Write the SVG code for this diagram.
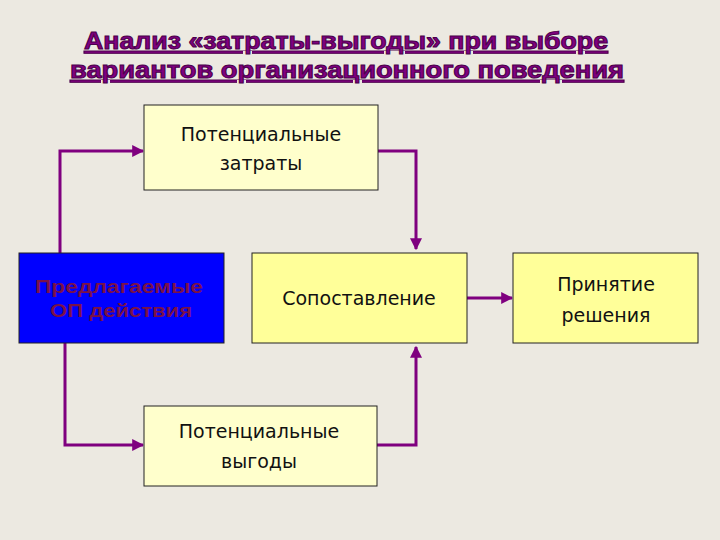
<svg xmlns="http://www.w3.org/2000/svg" width="720" height="540" viewBox="0 0 720 540">
<defs>
<style>
.title{font-family:"Liberation Sans",Arial,sans-serif;font-weight:bold;font-size:23px;fill:#800080;stroke:#4a004a;stroke-width:1;text-decoration:underline;text-anchor:middle}
.lbl{font-family:"DejaVu Sans","Noto Sans",sans-serif;font-size:19px;fill:#111;text-anchor:middle}
.blbl{font-family:"Liberation Sans",Arial,sans-serif;font-weight:bold;font-size:18px;fill:#7a1248;text-anchor:middle}
.pale{fill:#ffffcc;stroke:#222;stroke-width:1}
.yel{fill:#ffff99;stroke:#222;stroke-width:1}
.conn{fill:none;stroke:#7f007f;stroke-width:3;marker-end:url(#arr)}
</style>
<marker id="arr" viewBox="0 0 10 10" refX="9" refY="5" markerWidth="4" markerHeight="4" orient="auto" markerUnits="strokeWidth">
<path d="M0,0 L10,5 L0,10 z" fill="#7f007f"/>
</marker>
</defs>
<rect width="720" height="540" fill="#ece9e1"/>
<g id="title">
<text class="title" x="346" y="49" textLength="524" lengthAdjust="spacingAndGlyphs">Анализ «затраты-выгоды» при выборе</text>
<text class="title" x="347" y="78" textLength="554" lengthAdjust="spacingAndGlyphs">вариантов организационного поведения</text>
</g>
<g id="connectors">
<path class="conn" d="M60,253 V151 H143"/>
<path class="conn" d="M378,151 H416 V249"/>
<path class="conn" d="M65,343 V445 H143"/>
<path class="conn" d="M377,445 H416 V347"/>
<path class="conn" d="M467,298 H512"/>
</g>
<g id="costs">
<rect class="pale" x="144" y="105" width="234" height="85"/>
<text class="lbl" x="261" y="141">Потенциальные</text>
<text class="lbl" x="261" y="170">затраты</text>
</g>
<g id="actions">
<rect x="19" y="253" width="205" height="90" fill="#0000ff" stroke="#222" stroke-width="1"/>
<text class="blbl" x="119" y="293" textLength="168" lengthAdjust="spacingAndGlyphs">Предлагаемые</text>
<text class="blbl" x="121" y="317" textLength="142" lengthAdjust="spacingAndGlyphs">ОП действия</text>
</g>
<g id="compare">
<rect class="yel" x="252" y="253" width="215" height="90"/>
<text class="lbl" x="359" y="305">Сопоставление</text>
</g>
<g id="decision">
<rect class="yel" x="513" y="253" width="185" height="90"/>
<text class="lbl" x="606" y="291">Принятие</text>
<text class="lbl" x="606" y="322">решения</text>
</g>
<g id="benefits">
<rect class="pale" x="144" y="406" width="233" height="80"/>
<text class="lbl" x="259" y="438">Потенциальные</text>
<text class="lbl" x="259" y="468">выгоды</text>
</g>
</svg>
